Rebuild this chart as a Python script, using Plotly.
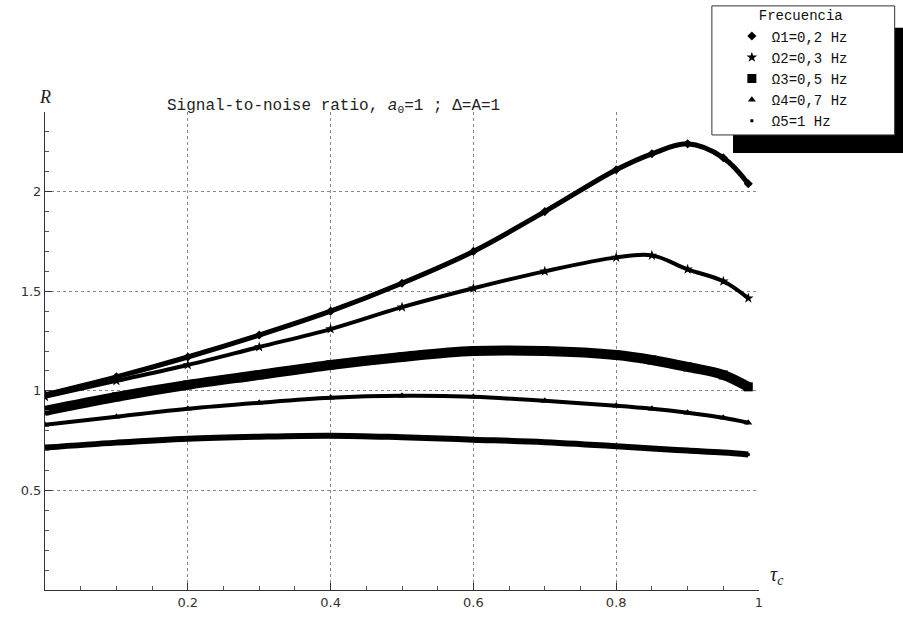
import plotly.graph_objects as go

tau = [0.0, 0.1, 0.2, 0.3, 0.4, 0.5, 0.6, 0.7, 0.8, 0.85, 0.9, 0.95, 0.985]
r_omega1 = [0.98, 1.07, 1.17, 1.28, 1.40, 1.54, 1.70, 1.90, 2.11, 2.19, 2.24, 2.17, 2.04]
r_omega2 = [0.97, 1.05, 1.13, 1.22, 1.31, 1.42, 1.515, 1.60, 1.67, 1.68, 1.61, 1.55, 1.465]
r_omega3 = [0.90, 0.97, 1.03, 1.08, 1.13, 1.17, 1.20, 1.20, 1.18, 1.155, 1.12, 1.08, 1.02]
r_omega4 = [0.83, 0.87, 0.91, 0.94, 0.965, 0.975, 0.97, 0.95, 0.925, 0.91, 0.89, 0.865, 0.84]
r_omega5 = [0.715, 0.74, 0.76, 0.77, 0.775, 0.767, 0.755, 0.742, 0.722, 0.71, 0.70, 0.69, 0.68]

series_names = ["Ω1=0,2 Hz", "Ω2=0,3 Hz", "Ω3=0,5 Hz", "Ω4=0,7 Hz", "Ω5=1 Hz"]
series_values = [r_omega1, r_omega2, r_omega3, r_omega4, r_omega5]
symbols = ["diamond", "star", "square", "triangle-up", "square"]
marker_sizes = [7, 8, 9, 7, 3]
line_widths = [5, 4, 10, 4, 6]

x_ticks = [0.2, 0.4, 0.6, 0.8, 1.0]
x_tick_labels = ["0.2", "0.4", "0.6", "0.8", "1"]
y_ticks = [0.5, 1.0, 1.5, 2.0]
y_tick_labels = ["0.5", "1", "1.5", "2"]

fig = go.Figure()
for name, vals, sym, ms, lw in zip(series_names, series_values, symbols, marker_sizes, line_widths):
    fig.add_trace(go.Scatter(x=tau, y=vals, mode="lines", line=dict(color="black", width=lw, shape="spline"),
                             showlegend=False, hoverinfo="skip"))
    fig.add_trace(go.Scatter(x=tau, y=vals, mode="markers", name=name,
                             marker=dict(symbol=sym, size=ms, color="black")))

mono = "Liberation Mono, Courier New, monospace"

fig.update_layout(
    width=903, height=621,
    margin=dict(l=45, r=144, t=112, b=31, autoexpand=False),
    paper_bgcolor="white", plot_bgcolor="white",
    font=dict(family=mono, color="#222"),
    title=dict(text="Signal-to-noise ratio, <i>a</i><sub>0</sub>=1 ; Δ=A=1",
               xref="container", yref="container", x=167/903, xanchor="left",
               y=1 - 104/621, yanchor="middle",
               font=dict(family=mono, size=16, color="#222")),
    showlegend=True,
    legend=dict(x=0.962, y=1.2296, xanchor="left", yanchor="top",
                bgcolor="rgba(0,0,0,0)", borderwidth=0,
                title=dict(text="\u00a0\u00a0Frecuencia", side="top center",
                           font=dict(family=mono, size=14, color="#111")),
                font=dict(family=mono, size=14, color="#111"),
                tracegroupgap=0, itemwidth=30),
    xaxis=dict(range=[0, 1], tickvals=x_ticks, ticktext=x_tick_labels,
               showgrid=True, gridcolor="#888", griddash="dot", gridwidth=1,
               showline=True, linecolor="#333", linewidth=1,
               ticks="inside", ticklen=7, tickcolor="#333",
               minor=dict(dtick=0.05, ticks="inside", ticklen=4, tickcolor="#555", showgrid=False),
               zeroline=False,
               tickfont=dict(family="DejaVu Sans, sans-serif", size=13, color="#333")),
    yaxis=dict(range=[0, 2.4], tickvals=y_ticks, ticktext=y_tick_labels,
               showgrid=True, gridcolor="#888", griddash="dot", gridwidth=1,
               showline=True, linecolor="#333", linewidth=1,
               ticks="inside", ticklen=7, tickcolor="#333",
               minor=dict(dtick=0.1, ticks="inside", ticklen=4, tickcolor="#555", showgrid=False),
               zeroline=False,
               tickfont=dict(family="DejaVu Sans, sans-serif", size=13, color="#333")),
    shapes=[
        dict(type="rect", xref="paper", yref="paper", x0=0.9636, x1=1.215, y0=0.914, y1=1.176,
             fillcolor="black", line=dict(width=0), layer="above"),
        dict(type="rect", xref="paper", yref="paper", x0=0.934, x1=1.190, y0=0.952, y1=1.222,
             fillcolor="white", line=dict(color="#333", width=1), layer="above"),
    ],
    annotations=[
        dict(text="<i>R</i>", xref="paper", yref="paper", x=0.0, y=1.031,
             xanchor="center", yanchor="middle", showarrow=False,
             font=dict(family="Liberation Serif, serif", size=18, color="#222")),
        dict(text="<i>τ<sub>c</sub></i>", xref="paper", yref="paper", x=1.012, y=0.03,
             xanchor="left", yanchor="middle", showarrow=False,
             font=dict(family="Liberation Serif, serif", size=20, color="#222")),
    ],
)

fig.write_html("out.html")
